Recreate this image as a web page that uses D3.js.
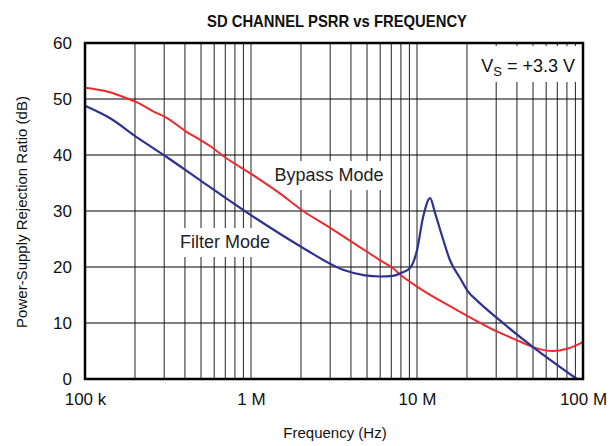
<!DOCTYPE html>
<html><head><meta charset="utf-8">
<script src="https://cdn.jsdelivr.net/npm/d3@7"></script>
<style>body{margin:0;background:#fff}svg{display:block}text{font-family:"Liberation Sans",Arial,sans-serif}</style>
</head><body><svg id="c" width="616" height="446"></svg>
<script>
const title = "SD CHANNEL PSRR vs FREQUENCY";
const xTickValues = [1e5, 1e6, 1e7, 1e8];
const xTickLabels = ["100 k", "1 M", "10 M", "100 M"];
const yTickValues = [0, 10, 20, 30, 40, 50, 60];
const bypassFreq = [1.0e5, 1.41e5, 1.62e5, 2.09e5, 2.57e5, 3.12e5, 4.11e5, 4.93e5, 5.66e5, 6.97e5, 1.03e6, 1.5e6, 2.06e6, 3.0e6, 4.5e6, 6.0e6, 7.07e6, 8.12e6, 1.0e7, 1.74e7, 2.75e7, 4.17e7, 5.0e7, 6.59e7, 8.01e7, 1.0e8];
const bypassDb   = [52.0, 51.2, 50.6, 49.3, 47.8, 46.6, 44.1, 42.7, 41.6, 39.6, 36.4, 33.1, 30.0, 27.0, 23.6, 21.2, 19.9, 18.4, 16.5, 12.3, 9.1, 6.7, 5.7, 5.0, 5.4, 6.6];
const filterFreq = [1.0e5, 1.41e5, 2.09e5, 3.12e5, 4.93e5, 1.03e6, 2.06e6, 3.58e6, 4.86e6, 5.98e6, 7.17e6, 8.12e6, 9.08e6, 1.0e7, 1.09e7, 1.20e7, 1.28e7, 1.42e7, 1.58e7, 1.82e7, 2.03e7, 2.30e7, 3.03e7, 5.0e7, 9.2e7];
const filterDb   = [48.8, 46.6, 43.0, 39.6, 35.5, 29.0, 23.4, 19.5, 18.5, 18.3, 18.4, 19.0, 19.8, 23.0, 29.0, 32.3, 29.8, 25.4, 21.2, 18.0, 15.6, 14.0, 10.9, 5.7, 0];

const svg = d3.select("#c");
const L = 85, R = 583, T = 43, B = 379;
const x = d3.scaleLog().domain([1e5, 1e8]).range([L, R]);
const y = d3.scaleLinear().domain([0, 60]).range([B, T]);

// grid
const minor = [];
for (let d = 1e5; d < 1e8; d *= 10) for (let k = 1; k <= 9; k++) minor.push(d * k);
minor.push(1e8);
svg.append("g").selectAll("line").data(minor).join("line")
  .attr("x1", d => x(d)).attr("x2", d => x(d)).attr("y1", T).attr("y2", B)
  .attr("stroke", "#222").attr("stroke-width", 1);
svg.append("g").selectAll("line").data(yTickValues).join("line")
  .attr("x1", L).attr("x2", R).attr("y1", d => y(d)).attr("y2", d => y(d))
  .attr("stroke", "#000").attr("stroke-width", 1);

// label boxes (white behind text)
svg.append("rect").attr("x", 470).attr("y", 46).attr("width", 111).attr("height", 36).attr("fill", "#fff");
svg.append("rect").attr("x", 268).attr("y", 161).attr("width", 122).attr("height", 29).attr("fill", "#fff");
svg.append("rect").attr("x", 173).attr("y", 228).attr("width", 104).attr("height", 29).attr("fill", "#fff");

// lines
const line = d3.line().x(d => x(d[0])).y(d => y(d[1])).curve(d3.curveMonotoneX);
svg.append("path").datum(bypassFreq.map((f, i) => [f, bypassDb[i]]))
  .attr("d", line).attr("fill", "none").attr("stroke", "#ee2a2e").attr("stroke-width", 2);
svg.append("path").datum(filterFreq.map((f, i) => [f, filterDb[i]]))
  .attr("d", line).attr("fill", "none").attr("stroke", "#2e3192").attr("stroke-width", 2.2);

// frame
svg.append("rect").attr("x", L).attr("y", T).attr("width", R - L).attr("height", B - T)
  .attr("fill", "none").attr("stroke", "#000").attr("stroke-width", 2.5);

// axes
const xAxis = d3.axisBottom(x).tickValues(xTickValues).tickFormat((d, i) => xTickLabels[i]).tickSize(0).tickPadding(14);
const gx = svg.append("g").attr("transform", `translate(0,${B})`).call(xAxis);
gx.select(".domain").remove();
gx.selectAll("text").attr("font-size", 17).attr("fill", "#111").attr("font-family", "Liberation Sans, Arial, sans-serif");
const yAxis = d3.axisLeft(y).tickValues(yTickValues).tickSize(0).tickPadding(13);
const gy = svg.append("g").attr("transform", `translate(${L},0)`).call(yAxis);
gy.select(".domain").remove();
gy.selectAll("text").attr("font-size", 17).attr("fill", "#111").attr("font-family", "Liberation Sans, Arial, sans-serif");

// texts
svg.append("text").attr("x", 337).attr("y", 27).attr("text-anchor", "middle")
  .attr("font-size", 16.5).attr("font-weight", "bold").attr("fill", "#111")
  .attr("textLength", 260).attr("lengthAdjust", "spacingAndGlyphs").text(title);
svg.append("text").attr("x", 335).attr("y", 438).attr("text-anchor", "middle")
  .attr("font-size", 15).attr("fill", "#111").text("Frequency (Hz)");
svg.append("text").attr("transform", "translate(27,212) rotate(-90)").attr("text-anchor", "middle")
  .attr("font-size", 15).attr("fill", "#111").text("Power-Supply Rejection Ratio (dB)");
svg.append("text").attr("x", 329).attr("y", 181).attr("text-anchor", "middle")
  .attr("font-size", 18).attr("fill", "#222").text("Bypass Mode");
svg.append("text").attr("x", 225).attr("y", 248).attr("text-anchor", "middle")
  .attr("font-size", 18).attr("fill", "#222").text("Filter Mode");
const vs = svg.append("text").attr("x", 575).attr("y", 72).attr("text-anchor", "end")
  .attr("font-size", 18).attr("fill", "#111");
vs.append("tspan").text("V");
vs.append("tspan").attr("font-size", 13).attr("dy", 4).text("S");
vs.append("tspan").attr("dy", -4).text(" = +3.3 V");
</script></body></html>
